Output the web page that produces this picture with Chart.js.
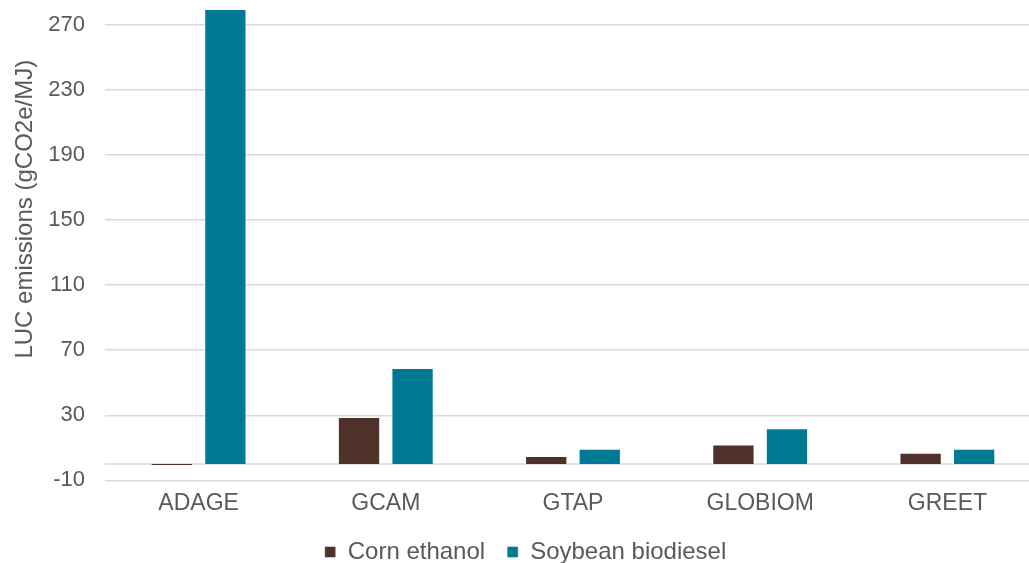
<!DOCTYPE html>
<html>
<head>
<meta charset="utf-8">
<script src="https://cdn.jsdelivr.net/npm/chart.js@4/dist/chart.umd.min.js"></script>
<style>
  html, body { margin: 0; padding: 0; background: #ffffff; overflow: hidden; }
  #wrap { width: 1029px; height: 563px; overflow: hidden; }
  canvas { display: block; }
</style>
</head>
<body>
<div id="wrap"><canvas id="chart" width="1045" height="563"></canvas></div>
<script>
// Land-use-change emissions by model
const models = ['ADAGE', 'GCAM', 'GTAP', 'GLOBIOM', 'GREET'];
const cornEthanol = [-1, 29, 5, 12, 7];
const soybeanBiodiesel = [300, 59, 9.4, 22, 9.5];
const yTicks = [-10, 30, 70, 110, 150, 190, 230, 270];
const yTitle = 'LUC emissions (gCO2e/MJ)';

const TEXT = '#595959';
const GRID = '#d9d9d9';
const FONT = "'Liberation Sans', Arial, Helvetica, sans-serif";

// horizontal axis line at zero, drawn under the bars
const zeroLine = {
  id: 'zeroLine',
  beforeDatasetsDraw(chart) {
    const { ctx, chartArea, scales } = chart;
    const y = scales.y.getPixelForValue(0);
    ctx.save();
    ctx.strokeStyle = GRID;
    ctx.lineWidth = 1.5;
    ctx.beginPath();
    ctx.moveTo(chartArea.left, y);
    ctx.lineTo(chartArea.right, y);
    ctx.stroke();
    ctx.restore();
  }
};

// rotated value-axis title, set a little above the middle of the plot
const axisTitle = {
  id: 'axisTitle',
  afterDraw(chart) {
    const { ctx, chartArea } = chart;
    const cy = (chartArea.top + chartArea.bottom) / 2 - 36;
    ctx.save();
    ctx.translate(25, cy);
    ctx.rotate(-Math.PI / 2);
    ctx.fillStyle = TEXT;
    ctx.font = "24px " + FONT;
    ctx.textAlign = 'center';
    ctx.textBaseline = 'middle';
    ctx.fillText(yTitle, 0, 0);
    ctx.restore();
  }
};

new Chart(document.getElementById('chart'), {
  type: 'bar',
  data: {
    labels: models,
    datasets: [
      {
        label: 'Corn ethanol',
        data: cornEthanol,
        backgroundColor: '#4e3128',
        borderColor: 'rgba(255,255,255,0.45)',
        borderWidth: 1,
        categoryPercentage: 0.572,
        barPercentage: 0.79
      },
      {
        label: 'Soybean biodiesel',
        data: soybeanBiodiesel,
        backgroundColor: '#007994',
        borderColor: 'rgba(255,255,255,0.45)',
        borderWidth: 1,
        categoryPercentage: 0.572,
        barPercentage: 0.79
      }
    ]
  },
  options: {
    responsive: false,
    animation: false,
    layout: { padding: { left: 10, top: 10, right: 4, bottom: -11 } },
    plugins: {
      tooltip: { enabled: false },
      legend: {
        position: 'bottom',
        labels: {
          color: TEXT,
          font: { family: FONT, size: 24 },
          boxWidth: 11,
          boxHeight: 11,
          padding: 22,
          useBorderRadius: false
        }
      }
    },
    scales: {
      x: {
        grid: { display: false },
        border: { display: false },
        ticks: {
          color: TEXT,
          font: { family: FONT, size: 23 },
          padding: 1
        }
      },
      y: {
        min: -10,
        max: 279,
        afterBuildTicks(scale) {
          scale.ticks = yTicks.map(v => ({ value: v }));
        },
        afterFit(scale) {
          scale.width = 95;
          scale.paddingTop = 0;
          scale.paddingBottom = 0;
        },
        grid: { color: GRID, lineWidth: 1.5, drawTicks: false },
        border: { display: false },
        ticks: {
          color: TEXT,
          font: { family: FONT, size: 22, lineHeight: 1 },
          padding: 20
        }
      }
    }
  },
  plugins: [zeroLine, axisTitle]
});
</script>
</body>
</html>
